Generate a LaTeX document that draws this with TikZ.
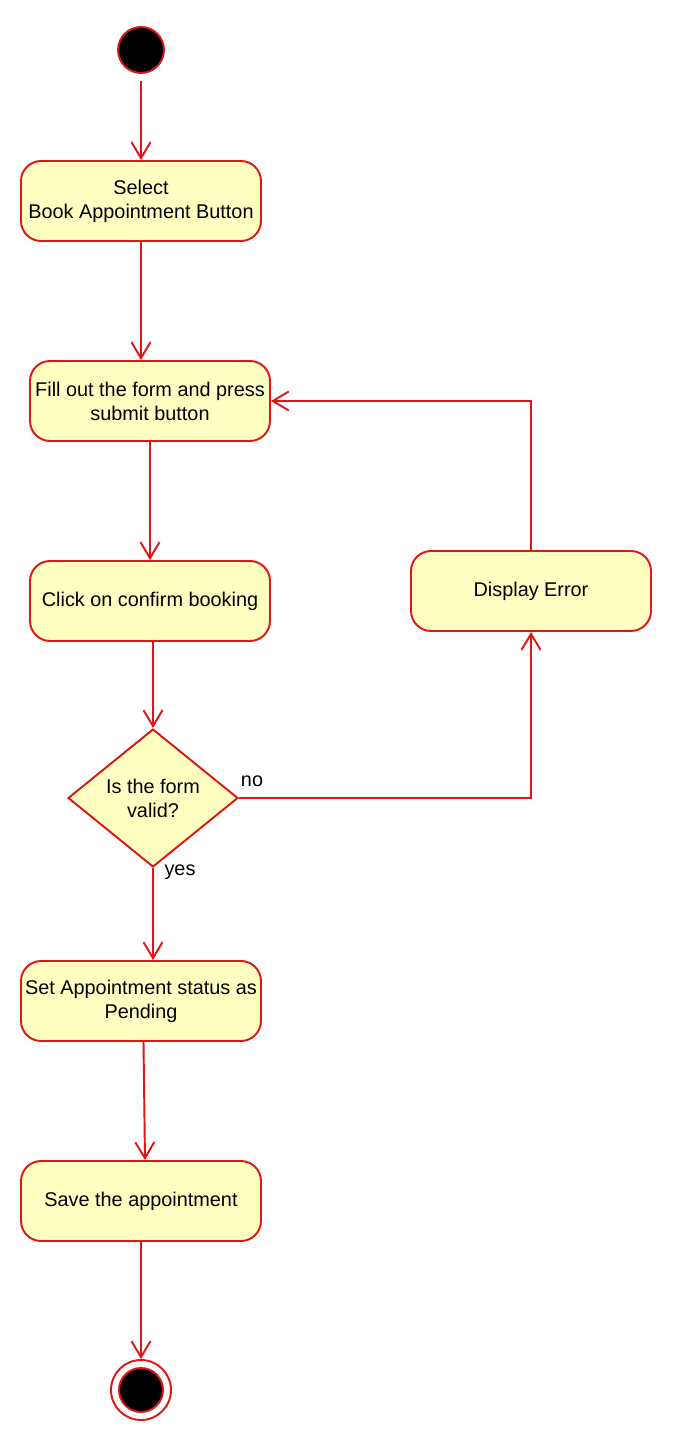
\documentclass[tikz,border=0pt]{standalone}
\usepackage{fontspec}
\setmainfont{Liberation Sans}
\usetikzlibrary{shapes.geometric,arrows.meta,positioning}
\definecolor{umlred}{RGB}{222,22,22}
\definecolor{umlfill}{RGB}{255,255,194}
\begin{document}
\begin{tikzpicture}[x=0.02cm,y=-0.02cm,
		activity/.style={draw=umlred,fill=umlfill,line width=1.1pt,rounded corners=0.4cm,
			minimum width=4.8cm,minimum height=1.6cm,align=center,inner sep=1pt,
			font=\fontsize{11.3}{13.6}\selectfont},
		decision/.style={diamond,draw=umlred,fill=umlfill,line width=1.1pt,aspect=1.23,
			minimum width=3.4cm,minimum height=2.76cm,inner sep=0pt,align=center,
			font=\fontsize{11.3}{13.6}\selectfont},
		flow/.style={draw=umlred,line width=1.1pt,-{Straight Barb[length=0.32cm,width=0.38cm]}},
		guard/.style={font=\fontsize{11.3}{13.6}\selectfont,inner sep=0pt}]
	\useasboundingbox (0,0) rectangle (674,1442);
	%Start and end points
	\coordinate (cstart) at (141,50);
	\coordinate (cfinish) at (141,1390);
	\node [circle,draw=umlred,fill=black,line width=1.1pt,minimum size=0.92cm,inner sep=0pt] (start) at (cstart) {};
	\node [circle,draw=umlred,fill=white,line width=1.1pt,minimum size=1.2cm,inner sep=0pt] (finish) at (cfinish) {};
	\node [circle,draw=umlred,fill=black,line width=1.1pt,minimum size=0.88cm,inner sep=0pt] (finishdot) at (cfinish) {};
	%Activities
	\coordinate (cselect) at (141,201);
	\coordinate (cfill) at (150,401);
	\coordinate (cconfirm) at (150,601);
	\coordinate (cerror) at (531,591);
	\coordinate (cpending) at (141,1001);
	\coordinate (csave) at (141,1201);
	\node [activity] (select) at (cselect) {Select\\Book Appointment Button};
	\node [activity] (fill) at (cfill) {Fill out the form and press\\submit button};
	\node [activity] (confirm) at (cconfirm) {Click on confirm booking};
	\node [activity] (error) at (cerror) {Display Error};
	\node [activity] (pending) at (cpending) {Set Appointment status as\\Pending};
	\node [activity] (save) at (csave) {Save the appointment};
	%Decision
	\coordinate (cvalid) at (153,798);
	\node [decision] (valid) at (cvalid) {Is the form\\valid?};
	%Guards
	\node [guard] (no) at (252,781) {no};
	\node [guard] (yes) at (180,872) {yes};
	%Control flows
	\draw [flow,shorten <=0.14cm] (start) -- (select);
	\draw [flow] (select) -- (select |- fill.north);
	\draw [flow] (fill) -- (confirm);
	\draw [flow] (valid |- confirm.south) -- (valid.north);
	\draw [flow] (valid.south) -- (valid.south |- pending.north);
	\draw [flow] ([xshift=0.05cm]pending.south) -- ([xshift=0.08cm]save.north);
	\draw [flow] (save) -- (finish);
	\draw [flow] (valid.east) -| (error.south);
	\draw [flow] (error.north) |- (fill.east);
\end{tikzpicture}
\end{document}
